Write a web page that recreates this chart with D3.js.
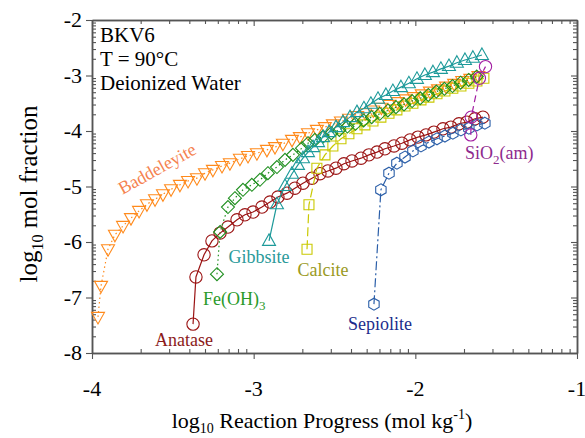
<!DOCTYPE html>
<html><head><meta charset="utf-8">
<script src="https://cdn.jsdelivr.net/npm/d3@7"></script>
<style>
html,body{margin:0;padding:0;background:#fff;}
svg{display:block;font-family:"Liberation Serif","Times New Roman",serif;}
</style></head>
<body>
<svg id="chart" width="585" height="438"></svg>
<script>
// ---- data (log10 reaction progress, log10 mol fraction) ----
const xTickValues = [-4, -3, -2, -1];
const yTickValues = [-8, -7, -6, -5, -4, -3, -2];
const xTickLabels = ["-4", "-3", "-2", "-1"];
const yTickLabels = ["-8", "-7", "-6", "-5", "-4", "-3", "-2"];

const anataseX = [-3.375,-3.357,-3.307,-3.258,-3.208,-3.159,-3.103,-3.054,-3.004,-2.949,-2.899,-2.850,-2.794,-2.745,-2.695,-2.639,-2.590,-2.541,-2.491,-2.442,-2.392,-2.336,-2.287,-2.237,-2.188,-2.132,-2.083,-2.033,-1.984,-1.934,-1.885,-1.829,-1.780,-1.730,-1.681,-1.631,-1.582];
const anataseY = [-7.48,-6.63,-6.23,-5.98,-5.84,-5.73,-5.60,-5.51,-5.46,-5.37,-5.28,-5.19,-5.12,-5.03,-4.94,-4.85,-4.77,-4.72,-4.67,-4.59,-4.54,-4.49,-4.43,-4.38,-4.32,-4.27,-4.22,-4.16,-4.11,-4.07,-4.02,-3.96,-3.93,-3.87,-3.84,-3.78,-3.75];

const baddeleyiteX = [-3.963,-3.944,-3.901,-3.858,-3.808,-3.759,-3.709,-3.660,-3.610,-3.561,-3.511,-3.456,-3.406,-3.351,-3.301,-3.252,-3.196,-3.147,-3.085,-3.035,-2.980,-2.918,-2.868,-2.819,-2.763,-2.714,-2.664,-2.609,-2.56,-2.51,-2.46,-2.41,-2.36,-2.31,-2.26,-2.21,-2.16,-2.11,-2.06,-2.01,-1.96,-1.91,-1.86,-1.81,-1.76,-1.71,-1.66,-1.61];
const baddeleyiteY = [-7.35,-6.79,-6.13,-5.87,-5.71,-5.57,-5.44,-5.32,-5.23,-5.14,-5.05,-4.97,-4.90,-4.85,-4.76,-4.70,-4.63,-4.58,-4.50,-4.45,-4.40,-4.34,-4.29,-4.23,-4.16,-4.11,-4.04,-3.98,-3.93,-3.88,-3.83,-3.78,-3.73,-3.68,-3.63,-3.58,-3.53,-3.48,-3.43,-3.39,-3.34,-3.29,-3.25,-3.20,-3.15,-3.10,-3.06,-3.01];

const calciteX = [-2.670,-2.658,-2.609,-2.559,-2.510,-2.460,-2.411,-2.361,-2.312,-2.262,-2.213,-2.163,-2.114,-2.064,-2.015,-1.965,-1.916,-1.866,-1.817,-1.768,-1.718,-1.669,-1.619,-1.576];
const calciteY = [-6.13,-5.33,-4.67,-4.43,-4.27,-4.14,-4.05,-3.96,-3.89,-3.82,-3.75,-3.68,-3.62,-3.55,-3.50,-3.44,-3.39,-3.33,-3.28,-3.23,-3.19,-3.14,-3.10,-3.05];

const feohX = [-3.227,-3.208,-3.159,-3.116,-3.066,-3.011,-2.961,-2.912,-2.856,-2.806,-2.757,-2.701,-2.664,-2.621,-2.57,-2.52,-2.47,-2.42,-2.37,-2.32,-2.27,-2.22,-2.17,-2.12,-2.07,-2.02,-1.97,-1.92,-1.87,-1.82,-1.77,-1.72,-1.67,-1.62];
const feohY = [-6.58,-5.82,-5.37,-5.21,-5.06,-4.97,-4.88,-4.76,-4.65,-4.52,-4.43,-4.31,-4.22,-4.16,-4.10,-4.04,-3.98,-3.92,-3.87,-3.81,-3.75,-3.69,-3.63,-3.57,-3.52,-3.46,-3.41,-3.35,-3.29,-3.24,-3.19,-3.13,-3.08,-3.02];

const gibbsiteX = [-2.905,-2.856,-2.806,-2.763,-2.726,-2.695,-2.664,-2.633,-2.602,-2.571,-2.534,-2.491,-2.448,-2.404,-2.361,-2.318,-2.275,-2.231,-2.182,-2.139,-2.089,-2.040,-1.990,-1.941,-1.891,-1.842,-1.792,-1.743,-1.693,-1.644,-1.588];
const gibbsiteY = [-5.98,-5.32,-4.99,-4.77,-4.61,-4.49,-4.38,-4.29,-4.20,-4.11,-4.02,-3.93,-3.84,-3.75,-3.66,-3.59,-3.51,-3.42,-3.35,-3.28,-3.21,-3.14,-3.06,-2.99,-2.94,-2.88,-2.83,-2.77,-2.72,-2.68,-2.63];

const sepioliteX = [-2.256,-2.213,-2.163,-2.114,-2.064,-2.015,-1.965,-1.916,-1.866,-1.817,-1.768,-1.718,-1.669,-1.619,-1.570];
const sepioliteY = [-7.12,-5.06,-4.76,-4.58,-4.47,-4.36,-4.27,-4.20,-4.14,-4.09,-4.04,-3.98,-3.95,-3.89,-3.86];

const sio2X = [-1.657,-1.654,-1.604,-1.566];
const sio2Y = [-4.07,-3.75,-3.05,-2.84];

// ---- layout ----
const svg = d3.select("#chart");
const mLeft = 92, mRight = 577, mTop = 20, mBottom = 353;
const x = d3.scaleLinear().domain([-4, -1]).range([mLeft, mRight]);
const y = d3.scaleLinear().domain([-8, -2]).range([mBottom, mTop]);
const axisColor = "#555";

// minor (log-style) ticks
const xMinor = [], yMinor = [];
for (let n = -4; n < -1; n++) for (let k = 2; k <= 9; k++) xMinor.push(n + Math.log10(k));
for (let n = -8; n < -2; n++) for (let k = 2; k <= 9; k++) yMinor.push(n + Math.log10(k));

const gAxes = svg.append("g");
gAxes.append("g").attr("transform", `translate(0,${mBottom})`)
  .call(d3.axisBottom(x).tickValues(xTickValues).tickFormat("").tickSize(6).tickSizeOuter(0));
gAxes.append("g").attr("transform", `translate(0,${mBottom})`)
  .call(d3.axisTop(x).tickValues(xMinor).tickFormat("").tickSize(4).tickSizeOuter(0));
gAxes.append("g").attr("transform", `translate(0,${mTop})`)
  .call(d3.axisBottom(x).tickValues(xTickValues).tickFormat("").tickSize(6).tickSizeOuter(0));
gAxes.append("g").attr("transform", `translate(0,${mTop})`)
  .call(d3.axisBottom(x).tickValues(xMinor).tickFormat("").tickSize(4).tickSizeOuter(0));
gAxes.append("g").attr("transform", `translate(${mLeft},0)`)
  .call(d3.axisLeft(y).tickValues(yTickValues).tickFormat("").tickSize(6).tickSizeOuter(0));
gAxes.append("g").attr("transform", `translate(${mLeft},0)`)
  .call(d3.axisRight(y).tickValues(yMinor).tickFormat("").tickSize(4).tickSizeOuter(0));
gAxes.append("g").attr("transform", `translate(${mRight},0)`)
  .call(d3.axisLeft(y).tickValues(yTickValues).tickFormat("").tickSize(6).tickSizeOuter(0));
gAxes.append("g").attr("transform", `translate(${mRight},0)`)
  .call(d3.axisLeft(y).tickValues(yMinor).tickFormat("").tickSize(4).tickSizeOuter(0));

gAxes.selectAll("path.domain").attr("stroke", axisColor).attr("stroke-width", 1.5);
gAxes.selectAll(".tick line").attr("stroke", axisColor).attr("stroke-width", 1.1);

// tick labels
svg.append("g").selectAll("text").data(xTickValues).join("text")
  .attr("x", d => x(d)).attr("y", mBottom + 43)
  .attr("text-anchor", "middle").attr("font-size", 22).attr("fill", "#000")
  .text((d,i) => xTickLabels[i]);
svg.append("g").selectAll("text").data(yTickValues).join("text")
  .attr("x", mLeft - 10).attr("y", d => y(d) + 7)
  .attr("text-anchor", "end").attr("font-size", 22).attr("fill", "#000")
  .text((d,i) => yTickLabels[i]);

// axis titles
const xt = svg.append("text").attr("x", 322).attr("y", 428)
  .attr("text-anchor", "middle").attr("font-size", 22).attr("fill", "#000");
xt.append("tspan").text("log");
xt.append("tspan").attr("font-size", 14).attr("dy", 5).text("10");
xt.append("tspan").attr("dy", -5).text(" Reaction Progress (mol kg");
xt.append("tspan").attr("font-size", 14).attr("dy", -9).text("-1");
xt.append("tspan").attr("dy", 9).text(")");

const yt = svg.append("text").attr("transform", `translate(37,194) rotate(-90)`)
  .attr("text-anchor", "middle").attr("font-size", 25).attr("fill", "#000");
yt.append("tspan").text("log");
yt.append("tspan").attr("font-size", 16).attr("dy", 6).text("10");
yt.append("tspan").attr("dy", -6).text(" mol fraction");

// header text
const hdr = ["BKV6", "T = 90°C", "Deionized Water"];
svg.append("g").selectAll("text").data(hdr).join("text")
  .attr("x", 100).attr("y", (d,i) => 42 + i*24)
  .attr("font-size", 21).attr("fill", "#000").text(d => d);

// ---- marker shapes ----
function shapePath(kind) {
  switch (kind) {
    case "square": return "M-5,-5H5V5H-5Z";
    case "diamond": return "M0,-6.5L6.5,0L0,6.5L-6.5,0Z";
    case "triUp": return "M0,-7L6.5,4.5L-6.5,4.5Z";
    case "triDown": return "M0,7L6.5,-4.5L-6.5,-4.5Z";
    case "hex": {
      const r = 6, pts = [];
      for (let k = 0; k < 6; k++) { const a = (-90 + 60*k) * Math.PI/180; pts.push([r*Math.cos(a), r*Math.sin(a)]); }
      return "M" + pts.map(p => p[0].toFixed(2) + "," + p[1].toFixed(2)).join("L") + "Z";
    }
    default: return d3.symbol(d3.symbolCircle, Math.PI*38)();
  }
}

const series = [
  {xs: anataseX, ys: anataseY, color: "#9b1414", shape: "circle", dash: null},
  {xs: baddeleyiteX, ys: baddeleyiteY, color: "#ff8a1c", shape: "triDown", dash: "1.5,3"},
  {xs: calciteX, ys: calciteY, color: "#c9c900", shape: "square", dash: "9,4"},
  {xs: feohX, ys: feohY, color: "#1f8f1f", shape: "diamond", dash: "1.5,3"},
  {xs: gibbsiteX, ys: gibbsiteY, color: "#1d9a9a", shape: "triUp", dash: null},
  {xs: sepioliteX, ys: sepioliteY, color: "#2a5ea8", shape: "hex", dash: "9,3,2,3"},
  {xs: sio2X, ys: sio2Y, color: "#a21ea2", shape: "circle", dash: "7,4"}
];

const line = d3.line().x(d => x(d[0])).y(d => y(d[1]));
const gData = svg.append("g");
series.forEach(s => {
  const pts = s.xs.map((v, i) => [v, s.ys[i]]);
  const g = gData.append("g");
  g.append("path").datum(pts).attr("d", line)
    .attr("fill", "none").attr("stroke", s.color).attr("stroke-width", 1.2)
    .attr("stroke-dasharray", s.dash);
  g.selectAll("path.m").data(pts).join("path").attr("class", "m")
    .attr("d", shapePath(s.shape))
    .attr("transform", d => `translate(${x(d[0])},${y(d[1])})`)
    .attr("fill", "none").attr("stroke", s.color).attr("stroke-width", 1.1);
});

// ---- series labels ----
const lbl = svg.append("g").attr("font-size", 18);
lbl.append("text").attr("x", 184).attr("y", 346).attr("text-anchor", "middle").attr("fill", "#8b1a1a").text("Anatase");
const fe = lbl.append("text").attr("x", 203).attr("y", 305).attr("fill", "#2a9a2a");
fe.append("tspan").text("Fe(OH)");
fe.append("tspan").attr("font-size", 13).attr("dy", 5).text("3");
lbl.append("text").attr("x", 259).attr("y", 263).attr("text-anchor", "middle").attr("fill", "#2a9a9a").text("Gibbsite");
lbl.append("text").attr("x", 323).attr("y", 276).attr("text-anchor", "middle").attr("fill", "#9a9a1e").text("Calcite");
lbl.append("text").attr("x", 380).attr("y", 330).attr("text-anchor", "middle").attr("fill", "#1c2c8c").text("Sepiolite");
const si = lbl.append("text").attr("x", 465).attr("y", 159).attr("fill", "#8e2a8e");
si.append("tspan").text("SiO");
si.append("tspan").attr("font-size", 13).attr("dy", 5).text("2");
si.append("tspan").attr("dy", -5).text("(am)");
lbl.append("text").attr("transform", "translate(160,174) rotate(-29)").attr("text-anchor", "middle")
  .attr("fill", "#f5824f").text("Baddeleyite");
</script>
</body></html>
